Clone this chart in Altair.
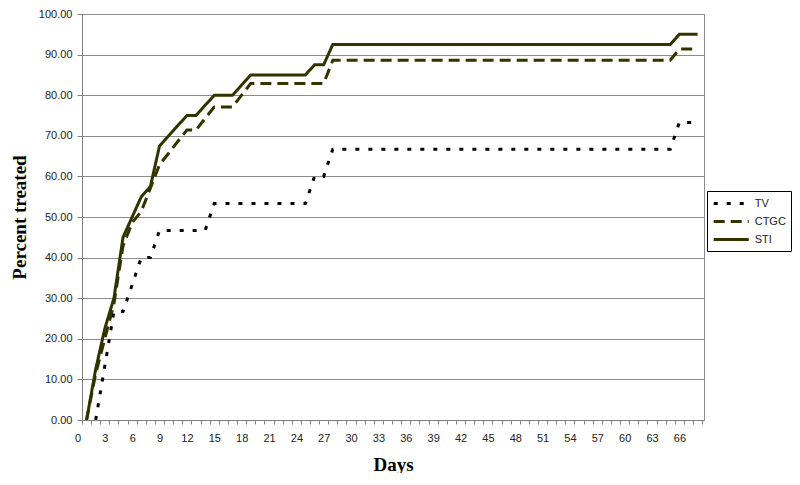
import altair as alt
import pandas as pd

series_names = ["TV", "CTGC", "STI"]

tv_days = [2, 3, 4, 5, 6, 7, 8, 9, 14, 15, 25, 26, 27, 28, 65, 66, 68]
tv_vals = [0, 13.3, 26.7, 26.7, 33.3, 40, 40, 46.7, 46.7, 53.3, 53.3, 60, 60, 66.7, 66.7, 73.3, 73.3]

ctgc_days = [1, 2, 3, 4, 5, 6, 7, 8, 9, 10, 11, 12, 13, 14, 15, 16, 17, 18, 19, 27, 28, 65, 66, 68]
ctgc_vals = [0, 11.4, 20, 28.6, 42.9, 48.6, 51.4, 57.1, 62.9, 65.7, 68.6, 71.4, 71.4, 74.3, 77.1, 77.1,
             77.1, 80, 82.9, 82.9, 88.6, 88.6, 91.4, 91.4]

sti_days = [1, 2, 3, 4, 5, 6, 7, 8, 9, 10, 11, 12, 13, 14, 15, 16, 17, 18, 19, 25, 26, 27, 28, 65, 66, 68]
sti_vals = [0, 12.5, 22.5, 30, 45, 50, 55, 57.5, 67.5, 70, 72.5, 75, 75, 77.5, 80, 80, 80, 82.5, 85, 85,
            87.5, 87.5, 92.5, 92.5, 95, 95]

y_ticks = list(range(0, 101, 10))
x_ticks = list(range(0, 69))

frames = []
for name, d, v in [("TV", tv_days, tv_vals), ("CTGC", ctgc_days, ctgc_vals), ("STI", sti_days, sti_vals)]:
    frames.append(pd.DataFrame({"series": name, "day": d, "value": v}))
df = pd.concat(frames, ignore_index=True)

chart = (
    alt.Chart(df)
    .transform_calculate(pos="datum.day - 0.5")
    .mark_line(strokeWidth=3, clip=True)
    .encode(
        x=alt.X(
            "pos:Q",
            scale=alt.Scale(domain=[0, 68.2], nice=False, zero=False),
            axis=alt.Axis(
                values=x_ticks,
                format="d",
                labelExpr="datum.value % 3 == 0 ? datum.label : ''",
                labelOffset=-4.5,
                labelOverlap=False,
                labelFlush=False,
                labelPadding=8,
                tickSize=4,
                grid=False,
                title="Days",
                titleY=50,
                titleBaseline="alphabetic",
            ),
        ),
        y=alt.Y(
            "value:Q",
            scale=alt.Scale(domain=[0, 100], nice=False),
            axis=alt.Axis(
                values=y_ticks,
                format=".2f",
                grid=True,
                gridColor="#8c8c8c",
                tickSize=5,
                labelPadding=5,
                title="Percent treated",
                titleX=-57,
                titleY=203,
                titleAngle=270,
                titleBaseline="alphabetic",
            ),
        ),
        color=alt.Color(
            "series:N",
            title=None,
            scale=alt.Scale(domain=series_names, range=["#000000", "#333300", "#333300"]),
            legend=alt.Legend(
                orient="none",
                legendX=625,
                legendY=177,
                symbolType="M-3,0H3",
                symbolSize=136,
                symbolOffset=11.7,
                symbolStrokeWidth=3,
                labelFont="Liberation Sans",
                labelFontSize=11,
                labelColor="#222222",
                labelOffset=16,
                rowPadding=4,
                padding=5,
                strokeColor="#000000",
                fillColor="#ffffff",
            ),
        ),
        strokeDash=alt.StrokeDash(
            "series:N",
            title=None,
            scale=alt.Scale(domain=series_names, range=[[4, 9], [11, 6], [1, 0]]),
        ),
    )
    .properties(
        width=622,
        height=406,
        autosize=alt.AutoSizeParams(type="none"),
        padding={"left": 74, "top": 6, "right": 88, "bottom": 53},
    )
    .configure_view(stroke="#8c8c8c", strokeWidth=1)
    .configure_axis(
        labelFont="Liberation Sans",
        labelFontSize=11,
        labelColor="#222222",
        titleFont="Liberation Serif",
        titleFontSize=19,
        titleFontWeight="bold",
        titleColor="#000000",
        domainColor="#808080",
        tickColor="#808080",
    )
)

chart.save("out.html", embed_options={"renderer": "svg", "actions": False})
